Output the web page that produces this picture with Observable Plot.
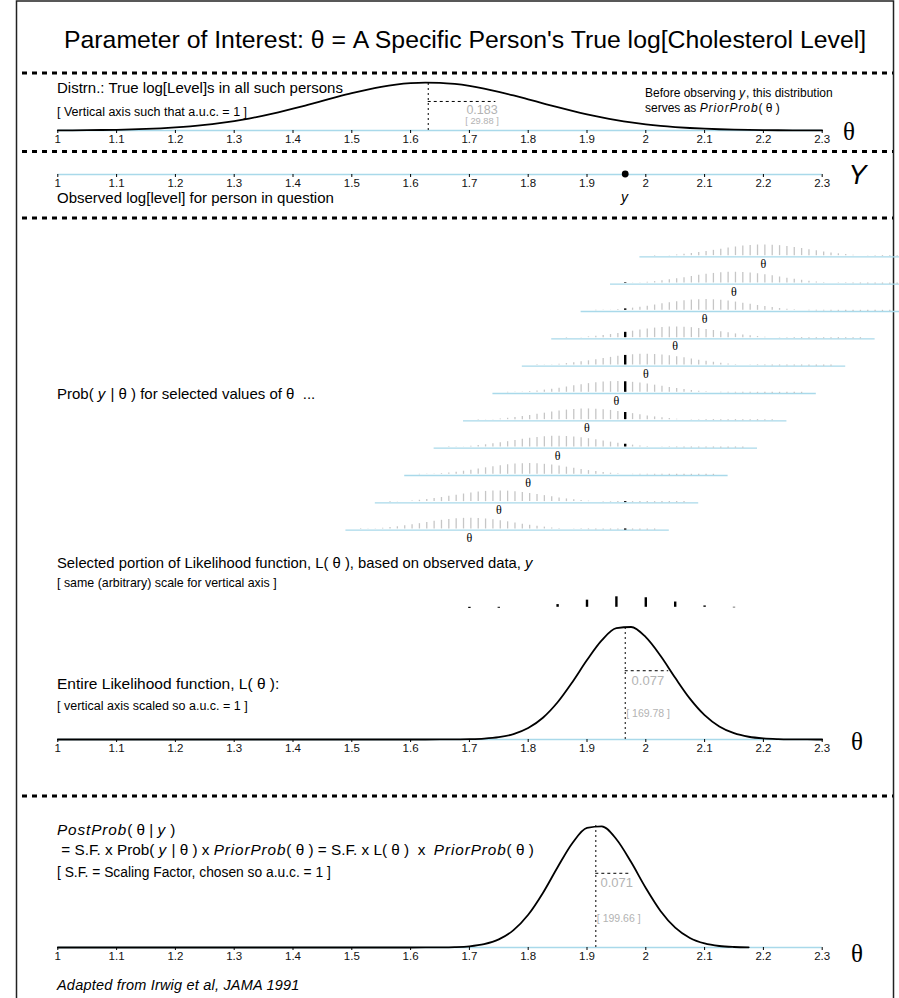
<!DOCTYPE html>
<html><head><meta charset="utf-8">
<script src="https://cdn.jsdelivr.net/npm/d3@7"></script>
<script src="https://cdn.jsdelivr.net/npm/@observablehq/plot@0.6"></script>
<style>
body{margin:0;background:#fff;}
#page{position:relative;width:899px;height:998px;overflow:hidden;font-family:"Liberation Sans",Arial,sans-serif;color:#000;}
.t{position:absolute;white-space:pre;line-height:1;transform:translateY(-50%);}
.c{transform:translate(-50%,-50%);}
.p{position:absolute;left:0;}
i{letter-spacing:0.9px;}
.it{font-style:italic;letter-spacing:0.2px;}
</style></head><body><div id="page"></div>
<script>
// ---------------- data ----------------
const tickValues = [1,1.1,1.2,1.3,1.4,1.5,1.6,1.7,1.8,1.9,2,2.1,2.2,2.3];
const tickLabels = ["1","1.1","1.2","1.3","1.4","1.5","1.6","1.7","1.8","1.9","2","2.1","2.2","2.3"];

const thetaGrid = [1.000,1.025,1.050,1.075,1.100,1.125,1.150,1.175,1.200,1.225,1.250,1.275,1.300,1.325,1.350,1.375,1.400,1.425,1.450,1.475,1.500,1.525,1.550,1.575,1.600,1.625,1.650,1.675,1.700,1.725,1.750,1.775,1.800,1.825,1.850,1.875,1.900,1.925,1.950,1.975,2.000,2.025,2.050,2.075,2.100,2.125,2.150,2.175,2.200,2.225,2.250,2.275,2.300];
const priorDensity = [0.0058,0.0092,0.0144,0.0219,0.0329,0.0484,0.070,0.099,0.138,0.188,0.252,0.332,0.429,0.544,0.676,0.826,0.989,1.164,1.343,1.523,1.694,1.849,1.982,2.084,2.151,2.179,2.167,2.115,2.026,1.905,1.758,1.593,1.416,1.236,1.058,0.890,0.734,0.595,0.473,0.369,0.282,0.212,0.157,0.113,0.081,0.056,0.0385,0.0259,0.0171,0.011,0.0070,0.0044,0.0027];
const likelihoodDensity = [0,0,0,0,0,0,0,0,0,0,0,0,0,0,0,0,0,0,0,0,0,0,0,0,0,0.0003,0.0012,0.0043,0.0139,0.040,0.105,0.247,0.522,0.992,1.699,2.616,3.627,4.526,5.083,5.137,4.671,3.823,2.817,1.867,1.114,0.598,0.289,0.126,0.049,0.0173,0.0055,0.0016,0.0004];
const posteriorDensity = [0,0,0,0,0,0,0,0,0,0,0,0,0,0,0,0,0,0,0,0,0,0,0,0,0,0.0013,0.005,0.018,0.056,0.154,0.373,0.798,1.507,2.513,3.698,4.806,5.512,5.581,4.989,3.936,2.742,1.686,0.915,0.438,0.185,0.069,0.023,0.007,null,null,null,null,null];

// summary numbers shown on each curve: [mean, sd, peak, height at mean+sd, end of sd bar]
const priorStats = [1.63, 0.183, 2.18, 1.32, 1.745];
const likStats = [1.965, 0.077, 5.18, 3.14, 2.039];
const postStats = [1.915, 0.071, 5.637, 3.42, 1.976];
const sdLabels = ["0.183", "0.077", "0.071"];
const precisionLabels = ["[ 29.88 ]", "[ 169.78 ]", "[ 199.66 ]"];

const observedY = 1.965;

// sampling distributions Prob(y | theta) for selected theta values
const rowThetas = [2.2, 2.15, 2.1, 2.05, 2.0, 1.95, 1.9, 1.85, 1.8, 1.75, 1.7];
const rowStart = [1.99, 1.94, 1.89, 1.84, 1.79, 1.74, 1.69, 1.64, 1.59, 1.54, 1.49];
const rowEnd = [2.54, 2.49, 2.44, 2.39, 2.34, 2.29, 2.24, 2.19, 2.14, 2.09, 2.04];
// bar positions relative to theta, and bar heights (same shape for every row)
const barOffsets = [-0.185,-0.1725,-0.16,-0.1475,-0.135,-0.1225,-0.11,-0.0975,-0.085,-0.0725,-0.06,-0.0475,-0.035,-0.0225,-0.01,0.0025,0.015,0.0275,0.04,0.0525,0.065,0.0775,0.09,0.1025,0.115,0.1275,0.14,0.1525,0.165,0.1775,0.19,0.2025,0.215,0.2275,0.24,0.2525,0.265,0.2775,0.29,0.3025,0.315];
const barHeights = [0.289,0.421,0.598,0.827,1.114,1.461,1.867,2.324,2.817,3.325,3.823,4.282,4.671,4.964,5.137,5.177,5.083,4.860,4.526,4.106,3.627,3.121,2.616,2.136,1.698,1.315,0.992,0.729,0.522,0.363,0.247,0.163,0.105,0.066,0.040,0.024,0.014,0.008,0.004,0.002,0.001];

// likelihood L(theta) = Prob(observed y | theta) at selected theta
const likThetas = [1.7, 1.75, 1.8, 1.85, 1.9, 1.95, 2.0, 2.05, 2.1, 2.15];
const likHeights = [0.0139, 0.105, 0.522, 1.699, 3.627, 5.083, 4.671, 2.817, 1.114, 0.289];

// ---------------- layout / style ----------------
const W = 899, XL = 57.3, XR = 77.3;
const BLUE = "#a9d9ea", BARGREY = "#c6c6c6", LGREY = "#b3b3b3";
const FONT = "Liberation Sans, Arial, sans-serif";
const SERIF = "Liberation Serif, Times New Roman, serif";
const page = document.getElementById("page");

const tickMap = new Map(tickValues.map((v, i) => [v, tickLabels[i]]));
function axisMarks() {
  return [
    Plot.ruleY([0], {x1: tickValues[0], x2: tickValues[tickValues.length - 1], stroke: BLUE, strokeWidth: 1.3}),
    Plot.axisX({ticks: tickValues, tickFormat: d => tickMap.get(d), label: null, tickSize: 3, tickPadding: 1.5, stroke: "#000", fill: "#111", fontSize: 11.5})
  ];
}
function place(svg, top) {
  svg.classList.add("p");
  svg.style.top = top + "px";
  page.appendChild(svg);
}
const baseStyle = {background: "transparent", overflow: "visible", fontFamily: FONT, fontSize: "11.5px", color: "#000"};

// ---------- decorations (frame + dashed separators) ----------
const deco = d3.create("svg").attr("width", W).attr("height", 998).attr("class", "p").style("top", "0px");
deco.append("rect").attr("x", 16.5).attr("y", 1).attr("width", 877).attr("height", 1010).attr("fill", "none").attr("stroke", "#222").attr("stroke-width", 1.5);
for (const yy of [73, 151.5, 218, 796]) {
  deco.append("line").attr("x1", 22).attr("x2", 893).attr("y1", yy).attr("y2", yy)
    .attr("stroke", "#000").attr("stroke-width", 3).attr("stroke-dasharray", "5,5");
}
page.appendChild(deco.node());

function curveTable(values) { return thetaGrid.map((t, i) => ({theta: t, v: values[i]})); }
function summaryMarks(stats, k, dyPrec) {
  const [mean, sd, peak, atSD, sdEnd] = stats;
  return [
    Plot.ruleX([mean], {y1: 0, y2: peak, stroke: "#000", strokeWidth: 1, strokeDasharray: "2,3"}),
    Plot.ruleY([atSD], {x1: mean, x2: sdEnd, stroke: "#000", strokeWidth: 1, strokeDasharray: "3,3"}),
    Plot.text([sdLabels[k]], {x: mean + sd / 2, y: atSD, text: d => d, dy: 10, fill: LGREY, fontSize: 13}),
    Plot.text([precisionLabels[k]], {x: mean, y: 0, text: d => d, textAnchor: "start", dx: 1, dy: dyPrec, fill: LGREY, fontSize: 10.5})
  ];
}

// ---------- Panel A: prior ----------
place(Plot.plot({
  width: W, height: 100, marginLeft: XL, marginRight: XR, marginTop: 0, marginBottom: 30,
  style: baseStyle,
  x: {domain: [1, 2.3], range: [XL, W - XR]},
  y: {domain: [0, 3], range: [70, 70 - 3 * 22], axis: null},
  marks: [
    ...axisMarks(),
    Plot.ruleX([priorStats[0]], {y1: 0, y2: priorStats[2], stroke: "#000", strokeWidth: 1, strokeDasharray: "2,3"}),
    Plot.ruleY([priorStats[3]], {x1: priorStats[0], x2: priorStats[4], stroke: "#000", strokeWidth: 1, strokeDasharray: "3,3"}),
    Plot.text([sdLabels[0]], {x: priorStats[0] + priorStats[1] / 2, y: priorStats[3], text: d => d, dy: 9, fill: LGREY, fontSize: 12.5}),
    Plot.text([precisionLabels[0]], {x: priorStats[0] + priorStats[1] / 2, y: priorStats[3], text: d => d, dy: 20, fill: LGREY, fontSize: 9.3}),
    Plot.line(curveTable(priorDensity), {x: "theta", y: "v", stroke: "#000", strokeWidth: 1.8, curve: "monotone-x"})
  ]
}), 60);

// ---------- Panel B: observed y ----------
place(Plot.plot({
  width: W, height: 55, marginLeft: XL, marginRight: XR, marginTop: 0, marginBottom: 31,
  style: baseStyle,
  x: {domain: [1, 2.3], range: [XL, W - XR]},
  y: {domain: [0, 1], range: [24, 0], axis: null},
  marks: [
    ...axisMarks(),
    Plot.dot([observedY], {x: d => d, y: 0, r: 3.4, fill: "#000", stroke: null, dy: -0.5})
  ]
}), 150);

// ---------- Panel C: Prob(y | theta) rows ----------
const rowData = rowThetas.map((t, i) => ({theta: t, start: rowStart[i], end: rowEnd[i]}));
const barData = rowThetas.flatMap(t => barOffsets.map((o, j) => ({theta: t, x: t + o, h: barHeights[j]})));
const blackData = likThetas.map((t, i) => ({theta: t, h: likHeights[i]}));
const ROW = 27.333;
place(Plot.plot({
  width: W, height: ROW * rowThetas.length + 20, marginLeft: XL, marginRight: XR, marginTop: 0, marginBottom: 20,
  style: baseStyle,
  x: {domain: [1, 2.3], range: [XL, W - XR], axis: null},
  y: {domain: [0, ROW / 2.3], range: [ROW, 0], axis: null},
  fy: {domain: rowThetas, padding: 0, round: false, axis: null},
  marks: [
    Plot.ruleY(rowData, {fy: "theta", y: 0, x1: "start", x2: "end", stroke: BLUE, strokeWidth: 1.3}),
    Plot.ruleX(barData, {fy: "theta", x: "x", y1: 0, y2: "h", stroke: BARGREY, strokeWidth: 1.3, insetTop: -1.2}),
    Plot.ruleX(blackData, {fy: "theta", x: () => observedY, y1: 0, y2: "h", stroke: "#000", strokeWidth: 2.4, insetTop: -1.2}),
    Plot.text(rowData, {fy: "theta", x: "theta", y: 0, text: () => "θ", dy: 7.5, fontFamily: SERIF, fontSize: 12, fill: "#000"})
  ]
}), 256.7 - ROW);

// ---------- Panel D: selected portion of likelihood ----------
place(Plot.plot({
  width: W, height: 25, marginLeft: XL, marginRight: XR, marginTop: 0, marginBottom: 2,
  style: baseStyle,
  x: {domain: [1, 2.3], range: [XL, W - XR], axis: null},
  y: {domain: [0, 6], range: [23, 23 - 6 * 2.3], axis: null},
  marks: [
    Plot.ruleX(likThetas.map((t, i) => ({t, h: likHeights[i]})), {x: "t", y1: 0, y2: "h", stroke: "#000", strokeWidth: 2.4, insetTop: -1.2})
  ]
}), 585);

// ---------- Panel E: entire likelihood ----------
place(Plot.plot({
  width: W, height: 150, marginLeft: XL, marginRight: XR, marginTop: 0, marginBottom: 26,
  style: baseStyle,
  x: {domain: [1, 2.3], range: [XL, W - XR]},
  y: {domain: [0, 6], range: [124, 124 - 6 * 21.9], axis: null},
  marks: [
    ...axisMarks(),
    ...summaryMarks(likStats, 1, -26),
    Plot.line(curveTable(likelihoodDensity), {x: "theta", y: "v", stroke: "#000", strokeWidth: 1.8, curve: "monotone-x"})
  ]
}), 615);

// ---------- Panel F: posterior ----------
place(Plot.plot({
  width: W, height: 160, marginLeft: XL, marginRight: XR, marginTop: 0, marginBottom: 28,
  style: baseStyle,
  x: {domain: [1, 2.3], range: [XL, W - XR]},
  y: {domain: [0, 6], range: [132, 132 - 6 * 21.7], axis: null},
  marks: [
    ...axisMarks(),
    ...summaryMarks(postStats, 2, -29),
    Plot.line(curveTable(posteriorDensity), {x: "theta", y: "v", stroke: "#000", strokeWidth: 1.8, curve: "monotone-x"})
  ]
}), 815);

// ---------- texts ----------
const texts = [
  {h: "Parameter of Interest: θ = A Specific Person's True log[Cholesterol Level]", x: 64, y: 40, s: 24.8},
  {h: "Distrn.: True log[Level]s in all such persons", x: 57, y: 87, s: 15},
  {h: "[ Vertical axis such that a.u.c. = 1 ]", x: 57, y: 111.5, s: 12.5},
  {h: "Before observing <i>y</i>, this distribution", x: 645, y: 93, s: 12},
  {h: "serves as <i>PriorProb</i>( θ )", x: 645, y: 108, s: 12},
  {h: "θ", x: 849, y: 131, s: 25, c: true, f: SERIF},
  {h: "Observed log[level] for person in question", x: 57, y: 197, s: 15},
  {h: "<i>y</i>", x: 625, y: 197, s: 14, c: true},
  {h: "<i>Y</i>", x: 858, y: 175, s: 27, c: true},
  {h: "Prob( <i>y</i> | θ ) for selected values of θ  ...", x: 57, y: 393, s: 15},
  {h: "Selected portion of Likelihood function, L( θ ), based on observed data, <i>y</i>", x: 57, y: 563, s: 14.8},
  {h: "[ same (arbitrary) scale for vertical axis ]", x: 57, y: 583, s: 12.4},
  {h: "Entire Likelihood function, L( θ ):", x: 57, y: 684, s: 15.5},
  {h: "[ vertical axis scaled so a.u.c. = 1 ]", x: 57, y: 706, s: 12.5},
  {h: "θ", x: 857, y: 741, s: 25, c: true, f: SERIF},
  {h: "<i>PostProb</i>( θ | <i>y</i> )", x: 57, y: 830, s: 15.3},
  {h: " = S.F. x Prob( <i>y</i> | θ ) x <i>PriorProb</i>( θ ) = S.F. x L( θ )  x  <i>PriorProb</i>( θ )", x: 57, y: 850, s: 15.3},
  {h: "[ S.F. = Scaling Factor, chosen so a.u.c. = 1 ]", x: 57, y: 873, s: 13.8},
  {h: "θ", x: 857, y: 953, s: 25, c: true, f: SERIF},
  {h: "<span class=\"it\">Adapted from Irwig et al, JAMA 1991</span>", x: 57, y: 985, s: 14.5}
];
for (const t of texts) {
  const d = document.createElement("div");
  d.className = "t" + (t.c ? " c" : "");
  d.style.left = t.x + "px";
  d.style.top = t.y + "px";
  d.style.fontSize = t.s + "px";
  if (t.f) d.style.fontFamily = t.f;
  d.innerHTML = t.h;
  page.appendChild(d);
}
</script></body></html>
